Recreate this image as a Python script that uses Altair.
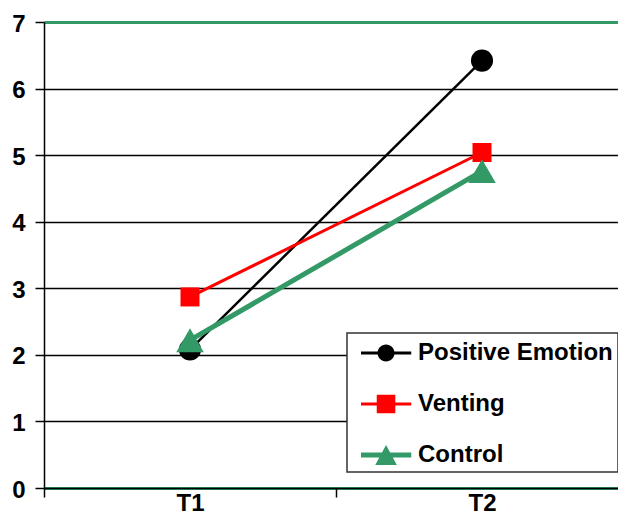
import altair as alt
import pandas as pd

times = ["T1", "T2"]
series = ["Positive Emotion", "Venting", "Control"]
positive_emotion = [2.08, 6.42]
venting = [2.87, 5.04]
control = [2.22, 4.76]
y_ticks = [0, 1, 2, 3, 4, 5, 6, 7]

colors = ["#000000", "#ff0000", "#339966"]
marker_shapes = ["circle", "square", "triangle-up"]
marker_sizes = [490, 361, 760]
line_widths = [2.5, 3, 5]
legend_paths = [
    "M-0.4,-0.1H2.95V0.1H-0.4Z M1.837,0A0.567,0.567 0 1 1 0.703,0A0.567,0.567 0 1 1 1.837,0Z",
    "M-0.4,-0.1H2.95V0.1H-0.4Z M0.65,-0.62H1.89V0.62H0.65Z",
    "M-0.4,-0.167H2.95V0.167H-0.4Z M1.27,-0.667L1.99,0.667H0.55Z",
]

rows = []
for name, vals in zip(series, [positive_emotion, venting, control]):
    for t, v in zip(times, vals):
        rows.append({"series": name, "time": t, "value": v})
df = pd.DataFrame(rows)

FONT = "Liberation Sans"

x_enc = alt.X(
    "time:N",
    sort=times,
    bandPosition=0.5,
    scale=alt.Scale(type="band", paddingInner=0, paddingOuter=0, range=[0, 584]),
    axis=alt.Axis(
        title=None,
        labelAngle=0,
        tickBand="extent",
        grid=False,
        domainColor="black",
        domainWidth=1.5,
        tickColor="black",
        tickWidth=1.5,
        tickSize=9,
        labelPadding=-6,
        labelFont=FONT,
        labelFontSize=24,
        labelFontWeight="bold",
        labelColor="black",
    ),
)
y_enc = alt.Y(
    "value:Q",
    scale=alt.Scale(domain=[0, 7], nice=False, zero=True),
    axis=alt.Axis(
        title=None,
        values=y_ticks,
        grid=True,
        gridColor={"condition": {"test": "datum.value === 7 || datum.value === 0", "value": "#339966"}, "value": "black"},
        gridWidth={"condition": {"test": "datum.value === 7 || datum.value === 0", "value": 3}, "value": 1.3},
        gridOpacity=1,
        domainColor="black",
        domainWidth=1.5,
        tickColor="black",
        tickWidth=1.5,
        tickSize=9,
        labelPadding=10,
        labelOffset=2,
        labelFont=FONT,
        labelFontSize=24,
        labelFontWeight="bold",
        labelColor="black",
    ),
)

layers = []
for name, col, shp, sz, lw in zip(series, colors, marker_shapes, marker_sizes, line_widths):
    base = alt.Chart(df).transform_filter(alt.datum.series == name)
    layers.append(base.mark_line(color=col, strokeWidth=lw).encode(x=x_enc, y=y_enc))
    layers.append(
        base.mark_point(shape=shp, filled=True, size=sz, color=col, opacity=1).encode(x=x_enc, y=y_enc)
    )

leg = alt.Legend(
    title=None,
    orient="none",
    legendX=303,
    legendY=311,
    padding=5,
    rowPadding=24,
    symbolSize=900,
    symbolStrokeWidth=0,
    symbolOpacity=1,
    labelOffset=36,
    labelLimit=400,
    labelFont=FONT,
    labelFontSize=24,
    labelFontWeight="bold",
    labelColor="black",
    strokeColor="#333333",
    fillColor="white",
)
legend_layer = (
    alt.Chart(df)
    .transform_filter("false")
    .mark_point(filled=True, opacity=1)
    .encode(
        color=alt.Color("series:N", scale=alt.Scale(domain=series, range=colors), legend=leg),
        shape=alt.Shape("series:N", scale=alt.Scale(domain=series, range=legend_paths), legend=leg),
    )
)
layers.append(legend_layer)

chart = (
    alt.layer(*layers)
    .properties(
        width=574,
        height=466,
        autosize=alt.AutoSizeParams(type="none"),
        padding={"left": 36, "top": 14, "right": 0, "bottom": 27},
    )
    .configure_view(stroke=None)
    .configure_legend(strokeWidth=1.5)
)

chart.save("out.html", embed_options={"renderer": "svg", "actions": False})
